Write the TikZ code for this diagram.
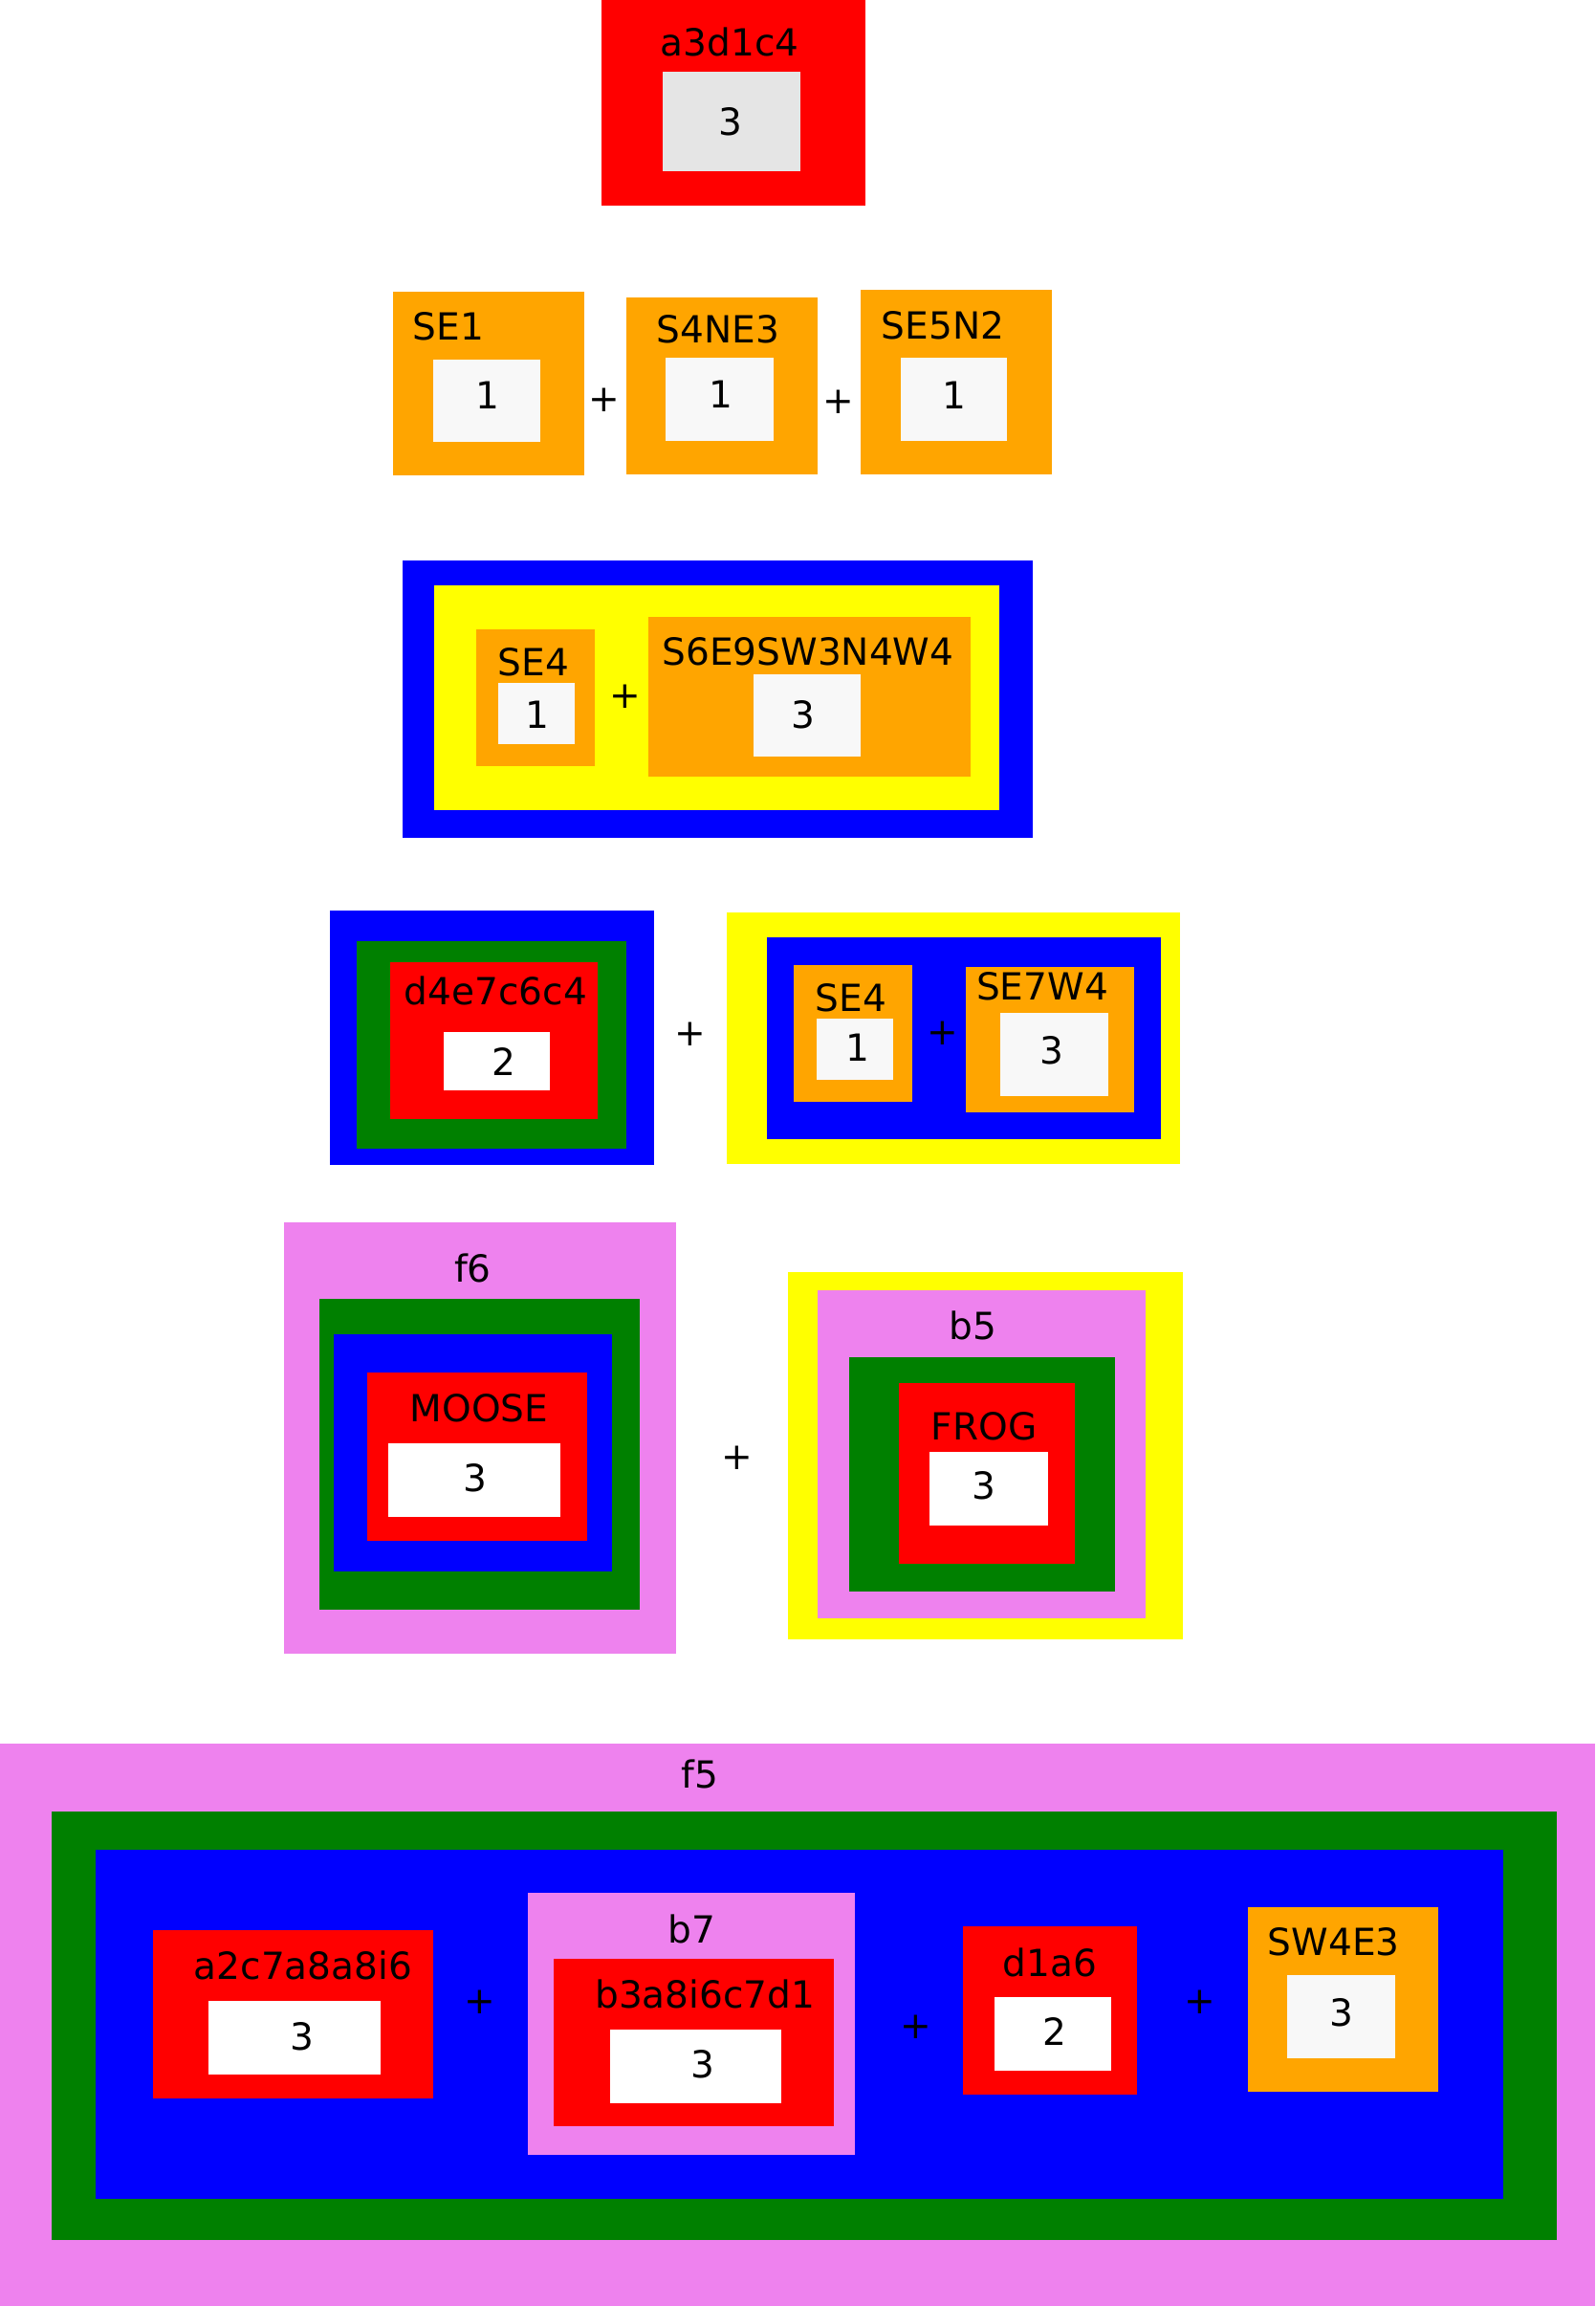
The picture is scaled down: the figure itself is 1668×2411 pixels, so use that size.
\documentclass[tikz,border=0pt]{standalone}
\usepackage{fontspec}
\newfontfamily\boxfont{DejaVu Sans}
\definecolor{boxred}{HTML}{FF0000}
\definecolor{boxorange}{HTML}{FFA500}
\definecolor{boxyellow}{HTML}{FFFF00}
\definecolor{boxblue}{HTML}{0000FF}
\definecolor{boxgreen}{HTML}{008000}
\definecolor{boxviolet}{HTML}{EE82EE}
\definecolor{cellgray}{HTML}{E5E5E5}
\definecolor{cellwhite}{HTML}{F8F8F8}

\tikzstyle{lbl} = [inner sep=0pt, anchor=base, font=\boxfont\fontsize{11.1}{13.3}\selectfont]
\tikzstyle{num} = [inner sep=0pt, font=\boxfont\fontsize{11.1}{13.3}\selectfont]

\begin{document}
\begin{tikzpicture}[x=0.01cm, y=-0.01cm]
        \useasboundingbox (0,0) rectangle (1668,2411);
        % a3d1c4
        \fill[boxred] (629,0) rectangle (905,215);
        \fill[cellgray] (692.7,75.3) rectangle (836.7,179.3);
        \node (a3d1c4) at (763,58) [lbl] {a3d1c4};
        \node (n1) at (764,127) [num] {3};

        % SE1 + S4NE3 + SE5N2
        \fill[boxorange] (411,305) rectangle (610.7,497);
        \fill[cellwhite] (452.8,375.7) rectangle (565,462);
        \node (se1) at (469,355.7) [lbl] {SE1};
        \node (n2) at (510,413) [num] {1};
        \node (p1) at (632,418) [num] {+};
        \fill[boxorange] (655.4,310.7) rectangle (854.6,495.7);
        \fill[cellwhite] (696.3,374) rectangle (809,460.7);
        \node (s4ne3) at (751,358.3) [lbl] {S4NE3};
        \node (n3) at (754,412) [num] {1};
        \node (p2) at (876.5,420) [num] {+};
        \fill[boxorange] (900,303) rectangle (1099.5,495.7);
        \fill[cellwhite] (941.7,374) rectangle (1053.4,460.7);
        \node (se5n2) at (986,354) [lbl] {SE5N2};
        \node (n4) at (997.5,413) [num] {1};

        % blue / yellow with SE4 + S6E9SW3N4W4
        \fill[boxblue] (421,585.7) rectangle (1079.5,876);
        \fill[boxyellow] (454,612) rectangle (1045,846.7);
        \fill[boxorange] (498.2,658.3) rectangle (622.3,801.3);
        \fill[cellwhite] (521.4,714.3) rectangle (601.3,778.3);
        \node (se4a) at (558,706.7) [lbl] {SE4};
        \node (n5) at (561.6,747.3) [num] {1};
        \node (p3) at (653.6,728.3) [num] {+};
        \fill[boxorange] (677.7,645) rectangle (1015.2,811.7);
        \fill[cellwhite] (788.4,705) rectangle (900.4,791);
        \node (s6e9) at (845,695) [lbl] {S6E9SW3N4W4};
        \node (n6) at (840,747.3) [num] {3};

        % d4e7c6c4 + (SE4 + SE7W4)
        \fill[boxblue] (344.7,951.7) rectangle (684.4,1218.3);
        \fill[boxgreen] (372.8,984) rectangle (654.5,1200.7);
        \fill[boxred] (407.5,1005.7) rectangle (625.1,1169.7);
        \fill[white] (463.8,1079.3) rectangle (575.3,1139.7);
        \node (d4e7) at (518.4,1050) [lbl] {d4e7c6c4};
        \node (n7) at (526.6,1110) [num] {2};
        \node (p4) at (722,1081.7) [num] {+};
        \fill[boxyellow] (760,954) rectangle (1234.2,1217.3);
        \fill[boxblue] (802.3,980.3) rectangle (1214.2,1191);
        \fill[boxorange] (829.9,1009.3) rectangle (954.3,1152.3);
        \fill[cellwhite] (854,1065.3) rectangle (933.8,1129.3);
        \node (se4b) at (890,1057.3) [lbl] {SE4};
        \node (n8) at (897.4,1095) [num] {1};
        \node (p5) at (986,1080) [num] {+};
        \fill[boxorange] (1010,1011) rectangle (1185.5,1162.7);
        \fill[cellwhite] (1046.4,1059) rectangle (1158.5,1145.7);
        \node (se7w4) at (1090,1045) [lbl] {SE7W4};
        \node (n9) at (1099.8,1098.3) [num] {3};

        % f6 + b5
        \fill[boxviolet] (296.9,1278.3) rectangle (706.9,1729);
        \fill[boxgreen] (333.8,1358) rectangle (668.8,1683);
        \fill[boxblue] (348.8,1394.7) rectangle (640,1642.7);
        \fill[boxred] (383.8,1435) rectangle (614.4,1610.7);
        \fill[white] (406.3,1509) rectangle (586.3,1586);
        \node (f6) at (494.4,1340) [lbl] {f6};
        \node (moose) at (501,1486.7) [lbl] {MOOSE};
        \node (n10) at (496.9,1545) [num] {3};
        \node (p6) at (770.6,1524.3) [num] {+};
        \fill[boxyellow] (823.8,1330) rectangle (1236.9,1714.3);
        \fill[boxviolet] (855,1349.3) rectangle (1198,1691.7);
        \fill[boxgreen] (887.5,1419) rectangle (1166.3,1664.3);
        \fill[boxred] (940,1446) rectangle (1123.8,1635.3);
        \fill[white] (971.9,1518.3) rectangle (1096.3,1595);
        \node (b5) at (1017.5,1400) [lbl] {b5};
        \node (frog) at (1029,1505.7) [lbl] {FROG};
        \node (n11) at (1028.8,1553.3) [num] {3};

        % f5
        \fill[boxviolet] (0,1823) rectangle (1668,2411);
        \fill[boxgreen] (54.3,1894.3) rectangle (1627.7,2341.7);
        \fill[boxblue] (100,1933.7) rectangle (1572.3,2299.2);
        \node (f5) at (732,1869) [lbl] {f5};
        \fill[boxred] (159.6,2018.2) rectangle (453.2,2193.6);
        \fill[white] (218,2091.9) rectangle (397.9,2169);
        \node (a2c7) at (317,2069) [lbl] {a2c7a8a8i6};
        \node (n12) at (316,2129.3) [num] {3};
        \node (p7) at (502,2093) [num] {+};
        \fill[boxviolet] (552,1978.5) rectangle (893.6,2252.5);
        \node (b7) at (723.4,2031.9) [lbl] {b7};
        \fill[boxred] (578.7,2047.5) rectangle (872.3,2223.2);
        \fill[white] (638.3,2121.5) rectangle (817,2198.7);
        \node (b3a8) at (737.2,2099.3) [lbl] {b3a8i6c7d1};
        \node (n13) at (735,2158.5) [num] {3};
        \node (p8) at (957.4,2118.8) [num] {+};
        \fill[boxred] (1007.4,2014) rectangle (1189.4,2189.7);
        \fill[white] (1040.4,2088) rectangle (1161.7,2165.2);
        \node (d1a6) at (1097.9,2066.2) [lbl] {d1a6};
        \node (n14) at (1103,2123.5) [num] {2};
        \node (p9) at (1255.3,2093) [num] {+};
        \fill[boxorange] (1305.3,1994) rectangle (1504.3,2186.6);
        \fill[cellwhite] (1345.7,2065.4) rectangle (1458.5,2151.5);
        \node (sw4e3) at (1394.7,2044.3) [lbl] {SW4E3};
        \node (n15) at (1403,2104) [num] {3};
\end{tikzpicture}
\end{document}
